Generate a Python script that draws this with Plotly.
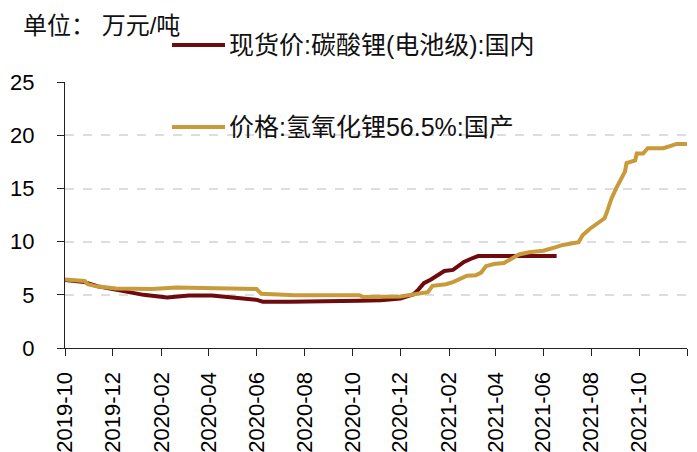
import plotly.graph_objects as go

# Battery-grade lithium carbonate spot price, domestic (10k CNY / t)
carbonate_dates = [
    "2019-10-01", "2019-10-26", "2019-11-12", "2019-12-05", "2020-01-09",
    "2020-02-08", "2020-03-07", "2020-04-05", "2020-05-06", "2020-05-31",
    "2020-06-09", "2020-07-13", "2020-10-10", "2020-11-06", "2020-12-01",
    "2020-12-18", "2020-12-24", "2020-12-31", "2021-01-09", "2021-01-18",
    "2021-01-26", "2021-02-06", "2021-02-12", "2021-02-20", "2021-03-01",
    "2021-03-10", "2021-06-18",
]
carbonate_price = [
    6.4, 6.2, 5.8, 5.5, 5.0,
    4.75, 4.95, 4.95, 4.75, 4.55,
    4.35, 4.35, 4.45, 4.5, 4.65,
    5.06, 5.5, 6.1, 6.45, 6.85,
    7.25, 7.35, 7.7, 8.1, 8.4,
    8.65, 8.65,
]

# Lithium hydroxide 56.5% price, domestic (10k CNY / t)
hydroxide_dates = [
    "2019-10-01", "2019-10-26", "2019-10-30", "2019-11-10", "2019-12-05",
    "2020-01-20", "2020-02-20", "2020-05-10", "2020-06-01", "2020-06-07",
    "2020-07-13", "2020-07-20", "2020-10-10", "2020-10-15", "2020-12-01",
    "2020-12-22", "2021-01-05", "2021-01-11", "2021-01-28", "2021-02-06",
    "2021-02-16", "2021-02-24", "2021-03-07", "2021-03-14", "2021-03-20",
    "2021-03-30", "2021-04-12", "2021-04-20", "2021-05-01", "2021-05-14",
    "2021-06-01", "2021-06-15", "2021-06-26", "2021-07-16", "2021-07-21",
    "2021-07-30", "2021-08-12", "2021-08-18", "2021-08-22", "2021-08-27",
    "2021-09-02", "2021-09-08", "2021-09-13", "2021-09-15", "2021-09-26",
    "2021-09-28", "2021-10-06", "2021-10-12", "2021-11-01", "2021-11-18",
    "2021-12-01",
]
hydroxide_price = [
    6.45, 6.3, 6.0, 5.8, 5.6,
    5.55, 5.7, 5.6, 5.55, 5.1,
    5.05, 4.97, 4.97, 4.8, 4.85,
    5.06, 5.25, 5.85, 6.0, 6.2,
    6.5, 6.8, 6.85, 7.1, 7.7,
    7.9, 8.0, 8.35, 8.8, 9.0,
    9.15, 9.45, 9.7, 9.95, 10.6,
    11.2, 11.9, 12.2, 13.0, 14.1,
    15.05, 15.8, 16.6, 17.4, 17.65,
    18.3, 18.3, 18.8, 18.8, 19.2,
    19.2,
]

series_names = ["现货价:碳酸锂(电池级):国内", "价格:氢氧化锂56.5%:国产"]
series_colors = ["#6E0B0E", "#C89A3A"]

x_tick_vals = [
    "2019-10-01", "2019-12-01", "2020-02-01", "2020-04-01", "2020-06-01",
    "2020-08-01", "2020-10-01", "2020-12-01", "2021-02-01", "2021-04-01",
    "2021-06-01", "2021-08-01", "2021-10-01", "2021-12-01",
]
x_tick_text = [
    "2019-10", "2019-12", "2020-02", "2020-04", "2020-06",
    "2020-08", "2020-10", "2020-12", "2021-02", "2021-04",
    "2021-06", "2021-08", "2021-10", "",
]
y_tick_vals = [0, 5, 10, 15, 20, 25]

unit_label = "单位： 万元/吨"

FONT = "Liberation Sans, Arial, Noto Sans CJK SC, sans-serif"

fig = go.Figure()
fig.add_trace(go.Scatter(
    x=carbonate_dates, y=carbonate_price, mode="lines",
    name=series_names[0], line=dict(color=series_colors[0], width=4),
    showlegend=False,
))
fig.add_trace(go.Scatter(
    x=hydroxide_dates, y=hydroxide_price, mode="lines",
    name=series_names[1], line=dict(color=series_colors[1], width=4),
    showlegend=False,
))

W, H = 697, 452
ML, MR, MT, MB = 65, 10, 82, 104
pw, ph = W - ML - MR, H - MT - MB


def px_to_paper(xp, yp):
    return (xp - ML) / pw, 1 - (yp - MT) / ph


# Legend keys: a short line sample followed by the series name
legend_rows = [(45, 0), (127, 1)]
for ypix, i in legend_rows:
    x0, yy = px_to_paper(172, ypix)
    x1, _ = px_to_paper(225, ypix)
    fig.add_shape(type="line", xref="paper", yref="paper",
                  x0=x0, x1=x1, y0=yy, y1=yy,
                  line=dict(color=series_colors[i], width=4))
    tx, _ = px_to_paper(227, ypix)
    fig.add_annotation(xref="paper", yref="paper", x=tx, y=yy,
                       text=series_names[i], showarrow=False,
                       xanchor="left", yanchor="middle",
                       font=dict(family=FONT, size=25, color="#111111"))

ux, uy = px_to_paper(21, 25)
fig.add_annotation(xref="paper", yref="paper", x=ux, y=uy, text=unit_label,
                   showarrow=False, xanchor="left", yanchor="middle",
                   font=dict(family=FONT, size=24, color="#111111"))

fig.update_layout(
    width=W, height=H,
    margin=dict(l=ML, r=MR, t=MT, b=MB, pad=0),
    paper_bgcolor="white", plot_bgcolor="white",
    font=dict(family=FONT, color="#000000"),
)
fig.update_xaxes(
    type="date", range=["2019-10-01", "2021-12-01"],
    tickmode="array", tickvals=x_tick_vals, ticktext=x_tick_text,
    tickangle=-90, ticks="outside", ticklen=7, tickwidth=1.3,
    tickcolor="#222222", showline=True, linecolor="#222222", linewidth=1.3,
    showgrid=False, zeroline=False, tickfont=dict(size=22, color="#000000"),
    ticklabelstandoff=7, automargin=False,
)
# a hair of headroom so the top gridline at 25 is still drawn
fig.update_yaxes(
    range=[0, 25.03], tickmode="array", tickvals=y_tick_vals,
    ticks="outside", ticklen=7, tickwidth=1.3, tickcolor="#222222",
    showline=True, linecolor="#222222", linewidth=1.3,
    showgrid=True, gridcolor="#DDDDDD", gridwidth=1.5, griddash="dash",
    zeroline=False, tickfont=dict(size=22, color="#000000"),
    ticklabelstandoff=18, automargin=False,
)

fig.write_html("out.html")
